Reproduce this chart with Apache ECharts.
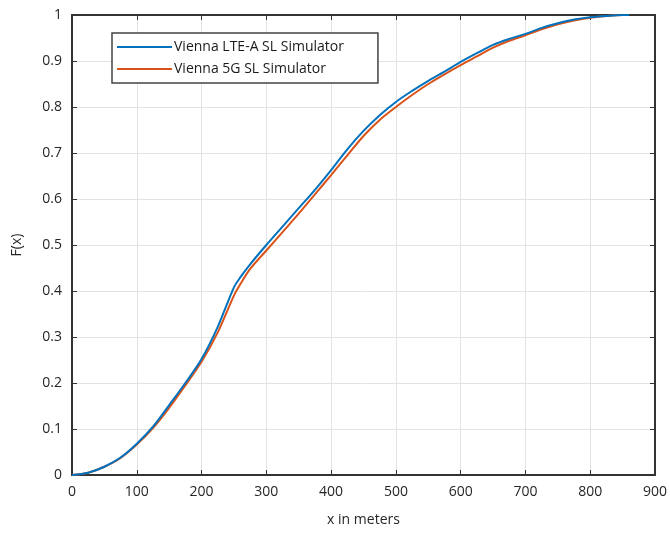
<!DOCTYPE html>
<html>
<head>
<meta charset="utf-8">
<script src="https://cdn.jsdelivr.net/npm/echarts@6/dist/echarts.min.js"></script>
<style>
  html, body { margin: 0; padding: 0; background: #fff; }
  #chart { width: 670px; height: 534px; }
</style>
</head>
<body>
<div id="chart"></div>
<script>
// distance in meters (sample points along the CDF)
const distances = [0, 25, 50, 75, 100, 125, 150, 175, 200, 225, 250, 260, 275, 300, 325, 350, 375, 400,
  425, 450, 475, 500, 525, 550, 575, 600, 625, 650, 675, 700, 725, 750, 775, 800, 825, 850, 860];

// Vienna LTE-A SL Simulator
const lteValues = [0, 0.005, 0.018, 0.038, 0.068, 0.105, 0.152, 0.2, 0.252, 0.322, 0.408, 0.43, 0.458, 0.5,
  0.54, 0.58, 0.62, 0.663, 0.708, 0.748, 0.782, 0.811, 0.835, 0.857, 0.877, 0.898, 0.917, 0.935, 0.948,
  0.959, 0.972, 0.982, 0.99, 0.995, 0.998, 1.0, 1.0];

// Vienna 5G SL Simulator
const nrValues = [0, 0.005, 0.018, 0.037, 0.066, 0.102, 0.146, 0.195, 0.246, 0.31, 0.39, 0.415, 0.448, 0.488,
  0.528, 0.568, 0.61, 0.652, 0.695, 0.737, 0.772, 0.8, 0.826, 0.85, 0.871, 0.891, 0.91, 0.929, 0.944,
  0.956, 0.969, 0.98, 0.988, 0.994, 0.998, 1.0, 1.0];

const seriesNames = ["Vienna LTE-A SL Simulator", "Vienna 5G SL Simulator"];

const axisColor = "#333333";
const font = "'Open Sans', 'Noto Sans', sans-serif";

const chart = echarts.init(document.getElementById("chart"));

const lteData = distances.map((d, i) => [d, lteValues[i]]);
const nrData = distances.map((d, i) => [d, nrValues[i]]);

const tickStyle = { show: true, inside: true, length: 5, lineStyle: { color: axisColor, width: 1 } };

const option = {
  animation: false,
  textStyle: { fontFamily: font },
  grid: { left: 72, right: 13, top: 15, bottom: 59, containLabel: false },
  legend: {
    orient: "vertical",
    left: 112,
    top: 33,
    padding: [7, 34, 7, 5],
    itemGap: 8,
    itemWidth: 55,
    itemHeight: 2,
    icon: "rect",
    backgroundColor: "#fff",
    borderColor: "#444",
    borderWidth: 1.5,
    textStyle: { fontSize: 14, color: "#1a1a1a", fontFamily: font, padding: [0, 0, 0, -3] },
    data: seriesNames,
  },
  xAxis: [
    {
      type: "value",
      min: 0,
      max: 900,
      interval: 100,
      name: "x in meters",
      nameLocation: "middle",
      nameGap: 38,
      nameTextStyle: { fontSize: 14, color: "#262626" },
      axisLine: { show: true, onZero: false, lineStyle: { color: axisColor, width: 2 } },
      axisTick: tickStyle,
      axisLabel: { fontSize: 14, color: "#262626", margin: 10 },
      splitLine: { show: true, lineStyle: { color: "#e3e3e3", width: 1 } },
    },
    {
      type: "value",
      position: "top",
      min: 0,
      max: 900,
      interval: 100,
      axisLine: { show: true, onZero: false, lineStyle: { color: axisColor, width: 2 } },
      axisTick: tickStyle,
      axisLabel: { show: false },
      splitLine: { show: false },
    },
  ],
  yAxis: [
    {
      type: "value",
      min: 0,
      max: 1,
      interval: 0.1,
      name: "F(x)",
      nameLocation: "middle",
      nameGap: 48,
      nameTextStyle: { fontSize: 14, color: "#262626" },
      axisLine: { show: true, onZero: false, lineStyle: { color: axisColor, width: 2 } },
      axisTick: tickStyle,
      axisLabel: {
        fontSize: 14,
        color: "#262626",
        margin: 10,
        formatter: (v) => (Math.round(v * 10) / 10).toString(),
      },
      splitLine: { show: true, lineStyle: { color: "#e3e3e3", width: 1 } },
    },
    {
      type: "value",
      position: "right",
      min: 0,
      max: 1,
      interval: 0.1,
      axisLine: { show: true, onZero: false, lineStyle: { color: axisColor, width: 2 } },
      axisTick: tickStyle,
      axisLabel: { show: false },
      splitLine: { show: false },
    },
  ],
  series: [
    {
      name: seriesNames[0],
      type: "line",
      data: lteData,
      smooth: 0.3,
      showSymbol: false,
      lineStyle: { color: "#0072BD", width: 2 },
      itemStyle: { color: "#0072BD" },
      z: 3,
    },
    {
      name: seriesNames[1],
      type: "line",
      data: nrData,
      smooth: 0.3,
      showSymbol: false,
      lineStyle: { color: "#D95319", width: 2 },
      itemStyle: { color: "#D95319" },
      z: 2,
    },
  ],
};

chart.setOption(option);
</script>
</body>
</html>
